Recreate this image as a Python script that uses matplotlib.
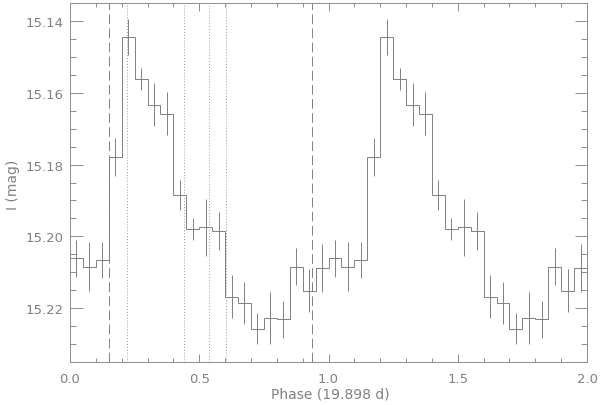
import numpy as np
import matplotlib
matplotlib.use('Agg')
import matplotlib.pyplot as plt
from matplotlib.ticker import MultipleLocator, FormatStrFormatter


# Phase-folded I-band light curve, 20 bins per cycle, shown twice

binWidth = 0.05

# mean magnitude per phase bin (0.00-0.05, 0.05-0.10, ...)
magBins = [15.2061, 15.2084, 15.2066, 15.1780, 15.1445,
           15.1561, 15.1634, 15.1659, 15.1885, 15.1980,
           15.1975, 15.1985, 15.2168, 15.2186, 15.2257,
           15.2228, 15.2231, 15.2084, 15.2151, 15.2089]

# error per bin
errBins = [0.0051, 0.0067, 0.0050, 0.0053, 0.0050,
           0.0030, 0.0060, 0.0060, 0.0042, 0.0030,
           0.0080, 0.0054, 0.0060, 0.0059, 0.0043,
           0.0073, 0.0052, 0.0051, 0.0060, 0.0067]

dashedPhases = [0.15, 0.935]
dottedPhases = [0.221, 0.44, 0.538, 0.604]

grey = '#808080'
axisGrey = '#8c8c8c'

mags = np.array(magBins + magBins)
errs = np.array(errBins + errBins)
edges = np.arange(len(mags) + 1) * binWidth
centers = 0.5 * (edges[:-1] + edges[1:])

fig = plt.figure(figsize=(6.0, 4.06), dpi=100)
ax = fig.add_axes([70/600., 1 - 363/406., 517/600., 359/406.])

ax.stairs(mags, edges, baseline=None, color=grey, linewidth=0.7)
ax.errorbar(centers, mags, yerr=errs, fmt='none', ecolor=grey,
            elinewidth=0.7, capsize=0)

for p in dashedPhases:
    ax.axvline(p, color=grey, linewidth=0.7, linestyle=(0, (10, 4.5)))
for p in dottedPhases:
    ax.axvline(p, color='#999999', linewidth=0.7, linestyle=(0, (1, 2)))

ax.set_xlim(0.0, 2.0)
ax.set_ylim(15.235, 15.135)

ax.xaxis.set_major_locator(MultipleLocator(0.5))
ax.xaxis.set_minor_locator(MultipleLocator(0.1))
ax.yaxis.set_major_locator(MultipleLocator(0.02))
ax.yaxis.set_minor_locator(MultipleLocator(0.005))
ax.xaxis.set_major_formatter(FormatStrFormatter('%.1f'))
ax.yaxis.set_major_formatter(FormatStrFormatter('%.2f'))

ax.tick_params(axis='both', which='both', direction='in', top=True, right=True,
               colors=axisGrey, labelcolor=grey, labelsize=9.5, width=0.7)
ax.tick_params(axis='x', which='major', length=6, pad=7)
ax.tick_params(axis='x', which='minor', length=3)
ax.tick_params(axis='y', which='major', length=9, pad=4.5)
ax.tick_params(axis='y', which='minor', length=4.5)

for s in ax.spines.values():
    s.set_color(axisGrey)
    s.set_linewidth(0.7)

# axis titles placed by hand, as in the original IDL plot
fig.text(330/600., 1 - 395/406., 'Phase (19.898 d)', color=grey, fontsize=10,
         ha='center', va='center')
fig.text(13/600., 1 - 185/406., 'I (mag)', color=grey, fontsize=10,
         rotation=90, ha='center', va='center')

fig.savefig('out.png', dpi=100)
